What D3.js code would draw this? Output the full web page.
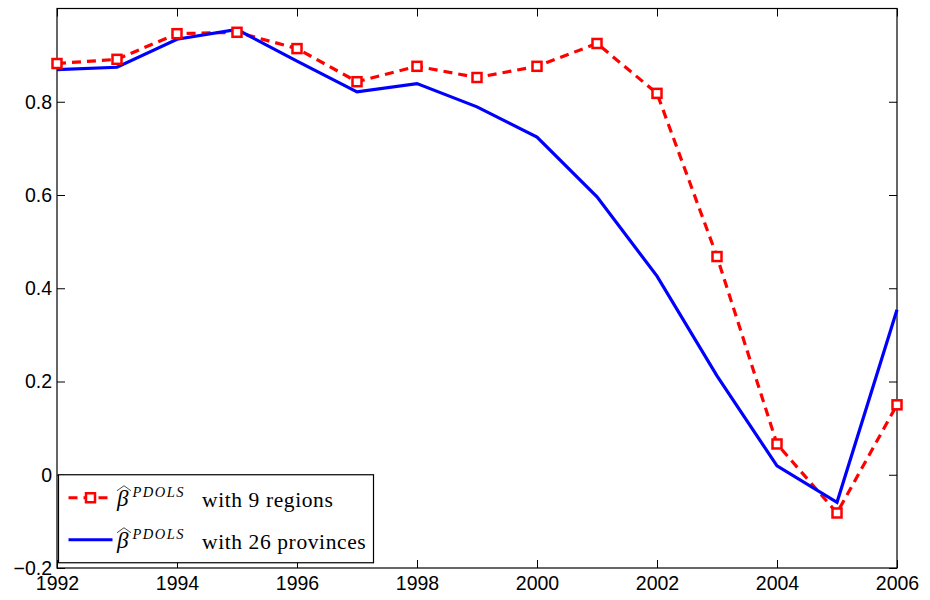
<!DOCTYPE html>
<html>
<head>
<meta charset="utf-8">
<script src="https://cdn.jsdelivr.net/npm/d3@7"></script>
<style>
  body { margin: 0; background: #fff; }
  .tick text { font-family: "Liberation Sans", Arial, sans-serif; font-size: 19.5px; fill: #000; }
  .leg { font-family: "Liberation Serif", "DejaVu Serif", serif; }
</style>
</head>
<body>
<div id="chart"></div>
<script>
// years and series
var years = [1992, 1993, 1994, 1995, 1996, 1997, 1998, 1999, 2000, 2001, 2002, 2003, 2004, 2005, 2006];
var regions9 = [0.882, 0.891, 0.946, 0.949, 0.914, 0.843, 0.876, 0.852, 0.876, 0.925, 0.818, 0.468, 0.066, -0.082, 0.150];
var provinces26 = [0.869, 0.874, 0.934, 0.955, 0.887, 0.821, 0.839, 0.789, 0.724, 0.596, 0.426, 0.212, 0.019, -0.059, 0.354];
var xTicks = [1992, 1994, 1996, 1998, 2000, 2002, 2004, 2006];
var yTicks = [-0.2, 0, 0.2, 0.4, 0.6, 0.8];
var legendLabels = ["with 9 regions", "with 26 provinces"];

var margin = {top: 8.5, right: 33, bottom: 32, left: 57};
var width = 930 - margin.left - margin.right;
var height = 600 - margin.top - margin.bottom;

var svg = d3.select("#chart").append("svg")
    .attr("width", 930)
    .attr("height", 600)
    .append("g")
    .attr("transform", "translate(" + margin.left + "," + margin.top + ")");

var x = d3.scaleLinear().domain([1992, 2006]).range([0, width]);
var y = d3.scaleLinear().domain([-0.2, 1.0]).range([height, 0]);

// axes, ticks pointing inward like matlab
var xAxis = d3.axisBottom(x).tickValues(xTicks).tickFormat(d3.format("d")).tickSizeInner(-8).tickSizeOuter(0).tickPadding(8);
var yAxis = d3.axisLeft(y).tickValues(yTicks).tickFormat(function (d) { return d === 0 ? "0" : d3.format(".1f")(d).replace("-", "\u2212"); }).tickSizeInner(-8).tickSizeOuter(0).tickPadding(5);

svg.append("g").attr("transform", "translate(0," + height + ")").call(xAxis)
    .call(function (g) { g.select(".domain").remove(); });
svg.append("g").call(yAxis)
    .call(function (g) { g.select(".domain").remove(); });
svg.append("g").call(d3.axisTop(x).tickValues(xTicks).tickFormat("").tickSizeInner(-8).tickSizeOuter(0))
    .call(function (g) { g.select(".domain").remove(); });
svg.append("g").attr("transform", "translate(" + width + ",0)")
    .call(d3.axisRight(y).tickValues(yTicks).tickFormat("").tickSizeInner(-8).tickSizeOuter(0))
    .call(function (g) { g.select(".domain").remove(); });

svg.selectAll(".tick line").attr("stroke", "#000").attr("stroke-width", 1);

svg.append("rect")
    .attr("width", width).attr("height", height)
    .attr("fill", "none").attr("stroke", "#000").attr("stroke-width", 1.2);

var line = d3.line()
    .x(function (d, i) { return x(years[i]); })
    .y(function (d) { return y(d); });

// red dashed series
svg.append("path")
    .datum(regions9)
    .attr("d", line)
    .attr("fill", "none")
    .attr("stroke", "#ff0000")
    .attr("stroke-width", 3.2)
    .attr("stroke-dasharray", "9,6");

// blue solid series
svg.append("path")
    .datum(provinces26)
    .attr("d", line)
    .attr("fill", "none")
    .attr("stroke", "#0000ff")
    .attr("stroke-width", 3.2);

svg.selectAll(".marker")
    .data(regions9)
    .enter()
    .append("rect")
    .attr("class", "marker")
    .attr("x", function (d, i) { return x(years[i]) - 4.5; })
    .attr("y", function (d) { return y(d) - 4.5; })
    .attr("width", 9)
    .attr("height", 9)
    .attr("fill", "#fff")
    .attr("stroke", "#ff0000")
    .attr("stroke-width", 2.5);

// legend
var leg = svg.append("g").attr("transform", "translate(1.5," + (y(0) - margin.top + 8.5) + ")");
leg.append("rect")
    .attr("width", 315).attr("height", 88)
    .attr("fill", "#fff").attr("stroke", "#000").attr("stroke-width", 1.2);

var rows = [
    {label: legendLabels[0], color: "#ff0000", dash: "9,6", marker: true, cy: 23},
    {label: legendLabels[1], color: "#0000ff", dash: null, marker: false, cy: 65}
];

rows.forEach(function (r) {
    var g = leg.append("g").attr("transform", "translate(0," + r.cy + ")");
    g.append("line")
        .attr("x1", 10).attr("x2", 54).attr("y1", 0).attr("y2", 0)
        .attr("stroke", r.color).attr("stroke-width", 3.2)
        .attr("stroke-dasharray", r.dash);
    if (r.marker) {
        g.append("rect").attr("x", 27.5).attr("y", -4.5).attr("width", 9).attr("height", 9)
            .attr("fill", "#fff").attr("stroke", r.color).attr("stroke-width", 2.5);
    }
    // beta with wide hat
    g.append("text").attr("class", "leg")
        .attr("x", 58.5).attr("y", 8)
        .attr("font-size", 23).attr("font-style", "italic")
        .text("\u03B2");
    g.append("path")
        .attr("d", "M58.5,-7 L65.5,-12 L72.5,-7")
        .attr("fill", "none").attr("stroke", "#333").attr("stroke-width", 0.9);
    g.append("text").attr("class", "leg")
        .attr("x", 74).attr("y", -1)
        .attr("font-size", 14.5).attr("font-style", "italic")
        .attr("letter-spacing", 1.5)
        .text("PDOLS");
    g.append("text").attr("class", "leg")
        .attr("x", 143.5).attr("y", 9)
        .attr("font-size", 21.5)
        .attr("letter-spacing", 0.6)
        .text(r.label);
});
</script>
</body>
</html>
